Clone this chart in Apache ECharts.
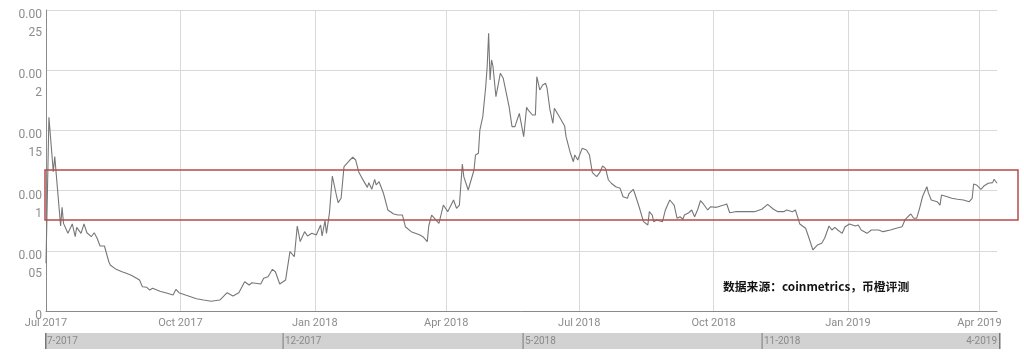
<!DOCTYPE html>
<html>
<head>
<meta charset="utf-8">
<style>html,body{margin:0;padding:0;background:#fff;}#c{width:1024px;height:359px;}</style>
<script src="https://cdn.jsdelivr.net/npm/echarts@6/dist/echarts.min.js"></script>
</head>
<body>
<div id="c"></div>
<script>
var dates = ['2017-07-01','2017-07-03','2017-07-06','2017-07-07','2017-07-11','2017-07-12','2017-07-13','2017-07-16','2017-07-19','2017-07-21','2017-07-22','2017-07-25','2017-07-27','2017-07-29','2017-08-01','2017-08-03','2017-08-05','2017-08-07','2017-08-10','2017-08-13','2017-08-14','2017-08-18','2017-08-22','2017-08-24','2017-08-28','2017-09-01','2017-09-03','2017-09-05','2017-09-08','2017-09-10','2017-09-12','2017-09-17','2017-09-22','2017-09-26','2017-09-28','2017-09-30','2017-10-05','2017-10-12','2017-10-17','2017-10-22','2017-10-28','2017-11-02','2017-11-06','2017-11-10','2017-11-14','2017-11-17','2017-11-19','2017-11-25','2017-11-27','2017-11-30','2017-12-03','2017-12-05','2017-12-08','2017-12-12','2017-12-15','2017-12-18','2017-12-20','2017-12-22','2017-12-25','2017-12-27','2017-12-30','2018-01-02','2018-01-05','2018-01-06','2018-01-08','2018-01-09','2018-01-11','2018-01-13','2018-01-16','2018-01-17','2018-01-19','2018-01-21','2018-01-23','2018-01-25','2018-01-27','2018-01-29','2018-01-31','2018-02-02','2018-02-06','2018-02-07','2018-02-09','2018-02-11','2018-02-12','2018-02-14','2018-02-17','2018-02-20','2018-02-24','2018-02-27','2018-03-02','2018-03-04','2018-03-08','2018-03-14','2018-03-16','2018-03-19','2018-03-20','2018-03-22','2018-03-27','2018-03-30','2018-04-02','2018-04-06','2018-04-08','2018-04-10','2018-04-12','2018-04-13','2018-04-16','2018-04-20','2018-04-21','2018-04-23','2018-04-24','2018-04-26','2018-04-28','2018-04-29','2018-04-30','2018-05-01','2018-05-02','2018-05-03','2018-05-05','2018-05-08','2018-05-10','2018-05-14','2018-05-16','2018-05-18','2018-05-21','2018-05-24','2018-05-26','2018-05-27','2018-05-30','2018-06-01','2018-06-02','2018-06-04','2018-06-06','2018-06-08','2018-06-09','2018-06-11','2018-06-13','2018-06-14','2018-06-18','2018-06-21','2018-06-22','2018-06-25','2018-06-27','2018-06-28','2018-06-30','2018-07-03','2018-07-06','2018-07-08','2018-07-10','2018-07-13','2018-07-15','2018-07-17','2018-07-19','2018-07-21','2018-07-23','2018-07-26','2018-07-29','2018-07-31','2018-08-03','2018-08-04','2018-08-07','2018-08-08','2018-08-11','2018-08-14','2018-08-17','2018-08-18','2018-08-20','2018-08-21','2018-08-23','2018-08-27','2018-08-29','2018-09-01','2018-09-04','2018-09-06','2018-09-08','2018-09-10','2018-09-11','2018-09-14','2018-09-16','2018-09-18','2018-09-20','2018-09-22','2018-09-24','2018-09-27','2018-09-29','2018-10-03','2018-10-08','2018-10-10','2018-10-12','2018-10-16','2018-10-21','2018-10-29','2018-11-03','2018-11-07','2018-11-11','2018-11-14','2018-11-18','2018-11-20','2018-11-24','2018-11-26','2018-11-29','2018-12-03','2018-12-05','2018-12-08','2018-12-11','2018-12-14','2018-12-16','2018-12-19','2018-12-21','2018-12-23','2018-12-25','2018-12-28','2018-12-30','2019-01-02','2019-01-06','2019-01-08','2019-01-10','2019-01-14','2019-01-17','2019-01-22','2019-01-25','2019-01-30','2019-02-03','2019-02-07','2019-02-09','2019-02-11','2019-02-13','2019-02-15','2019-02-17','2019-02-19','2019-02-21','2019-02-22','2019-02-24','2019-02-25','2019-02-27','2019-03-03','2019-03-05','2019-03-06','2019-03-10','2019-03-13','2019-03-17','2019-03-21','2019-03-25','2019-03-27','2019-03-28','2019-03-30','2019-04-02','2019-04-04','2019-04-07','2019-04-10','2019-04-11','2019-04-13'];
var values = [0.000396,0.001609,0.001157,0.001282,0.000706,0.000861,0.000728,0.000645,0.000723,0.000617,0.000695,0.000645,0.000723,0.000650,0.000617,0.000650,0.000604,0.000540,0.000540,0.000409,0.000382,0.000346,0.000326,0.000318,0.000299,0.000272,0.000257,0.000202,0.000197,0.000174,0.000189,0.000164,0.000147,0.000133,0.000180,0.000152,0.000130,0.000102,0.000091,0.000081,0.000091,0.000152,0.000125,0.000152,0.000243,0.000216,0.000235,0.000224,0.000272,0.000285,0.000346,0.000326,0.000224,0.000257,0.000493,0.000451,0.000706,0.000576,0.000659,0.000623,0.000645,0.000631,0.000714,0.000623,0.000750,0.000645,0.000811,0.001121,0.000949,0.000900,0.000936,0.001199,0.001227,0.001254,0.001277,0.001254,0.001157,0.001110,0.001027,0.001066,0.001011,0.001094,0.001047,0.001074,0.000978,0.000839,0.000806,0.000797,0.000797,0.000700,0.000659,0.000631,0.000617,0.000576,0.000706,0.000797,0.000728,0.000880,0.000825,0.000922,0.000853,0.000880,0.001221,0.001116,0.001005,0.001171,0.001296,0.001310,0.001503,0.001614,0.001863,0.002029,0.002307,0.001919,0.002085,0.002029,0.001780,0.001974,0.001933,0.001697,0.001531,0.001531,0.001642,0.001448,0.001692,0.001670,0.001628,0.001628,0.001946,0.001836,0.001877,0.001891,0.001850,0.001670,0.001559,0.001684,0.001601,0.001537,0.001448,0.001310,0.001240,0.001296,0.001254,0.001351,0.001337,0.001296,0.001149,0.001116,0.001149,0.001204,0.001185,0.001088,0.001061,0.001032,0.001019,0.000949,0.000936,0.000972,0.001011,0.000978,0.000866,0.000742,0.000714,0.000825,0.000797,0.000742,0.000756,0.000742,0.000839,0.000922,0.000880,0.000770,0.000783,0.000762,0.000797,0.000816,0.000839,0.000783,0.000839,0.000916,0.000889,0.000839,0.000866,0.000861,0.000880,0.000889,0.000816,0.000825,0.000825,0.000825,0.000845,0.000886,0.000845,0.000825,0.000825,0.000839,0.000825,0.000839,0.000723,0.000687,0.000617,0.000507,0.000548,0.000562,0.000604,0.000706,0.000673,0.000695,0.000673,0.000645,0.000700,0.000723,0.000706,0.000714,0.000673,0.000645,0.000673,0.000673,0.000659,0.000673,0.000687,0.000700,0.000756,0.000783,0.000806,0.000770,0.000770,0.000853,0.000949,0.000978,0.001032,0.000983,0.000922,0.000908,0.000880,0.000963,0.000949,0.000936,0.000928,0.000922,0.000908,0.000936,0.001055,0.001047,0.001011,0.001038,0.001061,0.001066,0.001094,0.001061];
var tickDates = ['2017-07-01','2017-10-01','2018-01-01','2018-04-01','2018-07-01','2018-10-01','2019-01-01','2019-04-01'];
var monthNames = ['Jan','Feb','Mar','Apr','May','Jun','Jul','Aug','Sep','Oct','Nov','Dec'];
var navLabels = ['7-2017','12-2017','5-2018','11-2018','4-2019'];
var sourceText = '数据来源：coinmetrics，币橙评测';

function ts(s){ var p = s.split('-'); return Date.UTC(+p[0], +p[1]-1, +p[2]); }
var seriesData = dates.map(function(d,i){ return [ts(d), values[i]]; });
var tickTs = tickDates.map(ts);

var chart = echarts.init(document.getElementById('c'), null, {renderer:'canvas'});
chart.setOption({
  animation: false,
  backgroundColor: '#fff',
  grid: {left: 46, right: 27, top: 10, bottom: 48, containLabel: false},
  xAxis: {
    type: 'value',
    min: ts(dates[0]),
    max: ts(dates[dates.length-1]),
    axisLine: {lineStyle: {color: '#8a8a8a', width: 1}},
    axisTick: {show: false, customValues: tickTs},
    splitLine: {show: true, lineStyle: {color: '#d9d9d9', width: 1}},
    axisLabel: {
      customValues: tickTs,
      color: '#8c8c8c', fontSize: 11, margin: 7, fontFamily: 'Roboto, sans-serif',
      formatter: function(v){ var d = new Date(v); return monthNames[d.getUTCMonth()] + ' ' + d.getUTCFullYear(); }
    }
  },
  yAxis: {
    type: 'value', min: 0, max: 0.0025, interval: 0.0005,
    axisLine: {show: true, lineStyle: {color: '#8a8a8a', width: 1}},
    axisTick: {show: false},
    splitLine: {lineStyle: {color: '#d9d9d9', width: 1}},
    axisLabel: {
      margin: 4, verticalAlign: 'top', align: 'right',
      formatter: function(v){
        if (v === 0) return '{a|0}';
        var s = v.toFixed(4).replace(/0+$/, '');
        return '{a|' + s.slice(0,4) + '}\n{b|' + s.slice(4) + '}';
      },
      rich: {
        a: {fontSize: 12, lineHeight: 10, color: '#8c8c8c', fontFamily: 'Roboto, sans-serif', align: 'right'},
        b: {fontSize: 12, lineHeight: 26, color: '#8c8c8c', fontFamily: 'Roboto, sans-serif', align: 'right'}
      }
    }
  },
  series: [{
    type: 'line', data: seriesData, showSymbol: false, symbol: 'none',
    lineStyle: {color: '#777777', width: 1.1}, z: 3
  }],
  graphic: [
    {type: 'rect', shape: {x: 45, y: 170, width: 973, height: 50}, style: {fill: 'none', stroke: '#b94a4a', lineWidth: 1.5}, z: 10},
    {type: 'text', x: 723, y: 287, style: {text: sourceText, fill: '#111', font: 'bold 11.8px "Noto Sans CJK SC", sans-serif', verticalAlign: 'middle'}, z: 10},
    {type: 'rect', shape: {x: 45, y: 333, width: 954, height: 16}, style: {fill: '#d2d2d2'}, z: 5},
    {type: 'rect', shape: {x: 45, y: 333, width: 1.5, height: 16}, style: {fill: '#777'}, z: 6},
    {type: 'rect', shape: {x: 282.5, y: 333, width: 1.2, height: 16}, style: {fill: '#888'}, z: 6},
    {type: 'rect', shape: {x: 522.5, y: 333, width: 1.2, height: 16}, style: {fill: '#888'}, z: 6},
    {type: 'rect', shape: {x: 761.5, y: 333, width: 1.2, height: 16}, style: {fill: '#888'}, z: 6},
    {type: 'rect', shape: {x: 999, y: 333, width: 1.5, height: 16}, style: {fill: '#777'}, z: 6},
    {type: 'text', x: 47, y: 341, style: {text: navLabels[0], fill: '#8a8a8a', font: '10px Roboto, sans-serif', verticalAlign: 'middle'}, z: 7},
    {type: 'text', x: 285, y: 341, style: {text: navLabels[1], fill: '#8a8a8a', font: '10px Roboto, sans-serif', verticalAlign: 'middle'}, z: 7},
    {type: 'text', x: 525, y: 341, style: {text: navLabels[2], fill: '#8a8a8a', font: '10px Roboto, sans-serif', verticalAlign: 'middle'}, z: 7},
    {type: 'text', x: 764, y: 341, style: {text: navLabels[3], fill: '#8a8a8a', font: '10px Roboto, sans-serif', verticalAlign: 'middle'}, z: 7},
    {type: 'text', x: 997, y: 341, style: {text: navLabels[4], fill: '#8a8a8a', font: '10px Roboto, sans-serif', verticalAlign: 'middle', align: 'right'}, z: 7}
  ]
});
</script>
</body>
</html>
